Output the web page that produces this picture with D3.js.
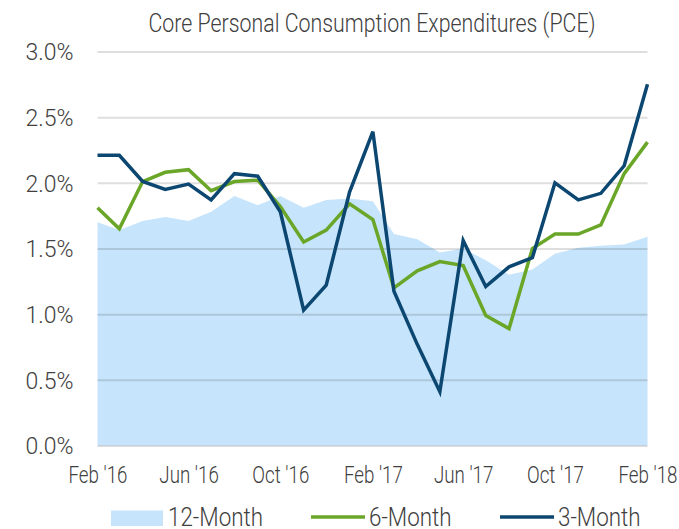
<!DOCTYPE html>
<html>
<head>
<meta charset="utf-8">
<script src="https://cdn.jsdelivr.net/npm/d3@7"></script>
<style>
  body { margin: 0; background: #fff; }
  svg text { font-family: "Roboto", "Liberation Sans", sans-serif; font-weight: 300; fill: #404040; }
</style>
</head>
<body>
<svg id="chart"></svg>
<script>
// months Feb '16 .. Feb '18
const months = ["2016-02","2016-03","2016-04","2016-05","2016-06","2016-07","2016-08","2016-09","2016-10","2016-11","2016-12",
                "2017-01","2017-02","2017-03","2017-04","2017-05","2017-06","2017-07","2017-08","2017-09","2017-10","2017-11","2017-12",
                "2018-01","2018-02"];
const twelveMonth = [1.70,1.64,1.71,1.74,1.71,1.78,1.90,1.83,1.90,1.81,1.87,1.88,1.86,1.61,1.57,1.47,1.50,1.41,1.30,1.34,1.46,1.505,1.52,1.53,1.59];
const sixMonth    = [1.81,1.65,2.01,2.08,2.10,1.94,2.01,2.02,1.82,1.55,1.64,1.84,1.72,1.20,1.33,1.40,1.37,0.99,0.89,1.50,1.61,1.61,1.68,2.07,2.31];
const threeMonth  = [2.21,2.21,2.01,1.95,1.99,1.87,2.07,2.05,1.78,1.03,1.22,1.93,2.39,1.175,0.77,0.41,1.56,1.21,1.36,1.43,2.00,1.87,1.92,2.13,2.75];
const yTicks = [0,0.5,1.0,1.5,2.0,2.5,3.0];
const xTickMonths = ["2016-02","2016-06","2016-10","2017-02","2017-06","2017-10","2018-02"];
const seriesNames = ["12-Month","6-Month","3-Month"];
const title = "Core Personal Consumption Expenditures (PCE)";

const width = 679, height = 529;
const parse = d3.timeParse("%Y-%m");
const dates = months.map(parse);

const svg = d3.select('#chart').attr('width', width).attr('height', height);

const x = d3.scaleTime().domain(d3.extent(dates)).range([97.5, 647.5]);
const y = d3.scaleLinear().domain([0, 3]).range([445.5, 51.5]);

// squeeze text horizontally to look like the condensed face of the original
function condense(sel, k) {
    sel.each(function() {
        let w = this.getComputedTextLength();
        d3.select(this).attr('textLength', w*k).attr('lengthAdjust', 'spacingAndGlyphs');
    });
}
function factor(sel, target) {
    return target / sel.node().getComputedTextLength();
}

const t = svg.append('text')
    .attr('x', 372).attr('y', 32)
    .attr('text-anchor', 'middle')
    .style('font-size', '25px')
    .text(title);
condense(t, factor(t, 447));

// 12-month area
const area = d3.area().x((d,i)=>x(dates[i])).y0(y(0)).y1(d=>y(d));
svg.append('path').datum(twelveMonth)
    .attr('d', area)
    .attr('fill', '#c6e4fb');

// gridlines on top of area
const yAxis = svg.append('g')
    .attr('transform', `translate(${x.range()[0]},0)`)
    .call(d3.axisLeft(y).tickValues(yTicks).tickSize(-(x.range()[1]-x.range()[0])).tickFormat(d=>d3.format('.1f')(d)+'%').tickPadding(24))
    .call(g=>g.select('.domain').remove())
    .call(g=>g.selectAll('line').attr('stroke', '#000').attr('stroke-opacity', 0.13).attr('stroke-width', 2))
    .call(g=>g.selectAll('text').style('font-size', '23px').attr('fill', '#404040').attr('dy', '0.36em'));
let yl = yAxis.selectAll('text');
condense(yl, factor(d3.select(yl.nodes()[6]), 48));

const line = d3.line().x((d,i)=>x(dates[i])).y(d=>y(d));
svg.append('path').datum(sixMonth)
    .attr('d', line).attr('fill', 'none')
    .attr('stroke', '#6aa628').attr('stroke-width', 3.5);
svg.append('path').datum(threeMonth)
    .attr('d', line).attr('fill', 'none')
    .attr('stroke', '#0c4771').attr('stroke-width', 3.5);

// x axis labels
const xAxis = svg.append('g')
    .attr('transform', `translate(0,${y(0)})`)
    .call(d3.axisBottom(x).tickValues(xTickMonths.map(parse)).tickSize(0).tickPadding(21).tickFormat(d3.timeFormat("%b '%y")))
    .call(g=>g.select('.domain').remove())
    .call(g=>g.selectAll('text').style('font-size', '23px').attr('fill', '#404040'));
let xl = xAxis.selectAll('text');
condense(xl, factor(d3.select(xl.nodes()[0]), 59));

// legend
const legend = svg.append('g').attr('transform', 'translate(0,517)');
legend.append('rect').attr('x', 111).attr('y', -6.5).attr('width', 52).attr('height', 15.5).attr('fill', '#c6e4fb');
legend.append('line').attr('x1', 311).attr('x2', 365).attr('y1', 0).attr('y2', 0).attr('stroke', '#6aa628').attr('stroke-width', 3.5);
legend.append('line').attr('x1', 500).attr('x2', 554).attr('y1', 0).attr('y2', 0).attr('stroke', '#0c4771').attr('stroke-width', 3.5);
const lt = legend.selectAll('text.lg').data(seriesNames).join('text')
    .attr('class', 'lg')
    .attr('x', (d,i)=>[168,369,558][i]).attr('y', 8.5)
    .style('font-size', '25px')
    .text(d=>d);
condense(lt, factor(d3.select(lt.nodes()[0]), 95));
</script>
</body>
</html>
